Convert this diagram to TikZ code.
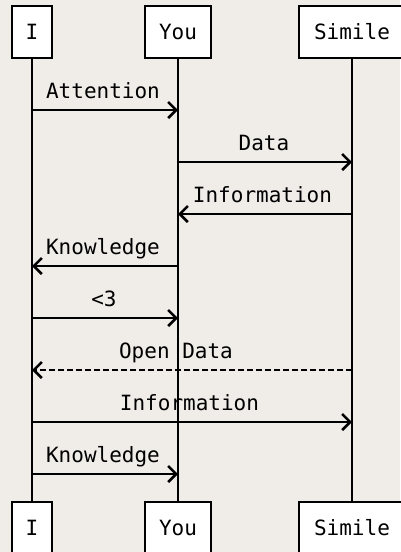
\documentclass[tikz,border=0pt]{standalone}
\usepackage{fontspec}
\setmonofont{DejaVu Sans Mono}
\usetikzlibrary{arrows.meta}
\definecolor{bg}{RGB}{240,236,232}
\begin{document}
\begin{tikzpicture}[x=1pt,y=-1pt,
  txt/.style={font=\ttfamily\fontsize{21}{25}\selectfont},
  actor/.style={txt,draw,fill=white,line width=2pt,minimum height=52pt,inner sep=0pt},
  life/.style={line width=2pt},
  msg/.style={line width=2pt,-{Straight Barb[length=8pt,width=16pt,line width=2.6pt]}},
  rmsg/.style={msg,dash pattern=on 6pt off 3pt},
  lbl/.style={txt,anchor=base,inner sep=0pt}]
\fill[bg] (0,0) rectangle (400,552);
\useasboundingbox (0,0) rectangle (400,552);
% actors
\node[actor,minimum width=40pt] (Itop) at (32,32) {I};
\node[actor,minimum width=66pt] (Ytop) at (178,32) {You};
\node[actor,minimum width=106pt] (Stop) at (352,32) {Simile};
\node[actor,minimum width=40pt] (Ibot) at (32,528) {I};
\node[actor,minimum width=66pt] (Ybot) at (178,528) {You};
\node[actor,minimum width=106pt] (Sbot) at (352,528) {Simile};
% lifelines
\draw[life] (Itop.south) -- (Ibot.north);
\draw[life] (Ytop.south) -- (Ybot.north);
\draw[life] (Stop.south) -- (Sbot.north);
% message points
\coordinate (I1) at (32,110);  \coordinate (Y1) at (178,110);
\coordinate (Y2) at (178,162); \coordinate (S2) at (352,162);
\coordinate (S3) at (352,214); \coordinate (Y3) at (178,214);
\coordinate (Y4) at (178,266); \coordinate (I4) at (32,266);
\coordinate (I5) at (32,318);  \coordinate (Y5) at (178,318);
\coordinate (S6) at (352,370); \coordinate (I6) at (32,370);
\coordinate (I7) at (32,422);  \coordinate (S7) at (352,422);
\coordinate (I8) at (32,474);  \coordinate (Y8) at (178,474);
% messages
\draw[msg] (I1) -- (Y1);
\draw[msg] (Y2) -- (S2);
\draw[msg] (S3) -- (Y3);
\draw[msg] (Y4) -- (I4);
\draw[msg] (I5) -- (Y5);
\draw[rmsg] (S6) -- (I6);
\draw[msg] (I7) -- (S7);
\draw[msg] (I8) -- (Y8);
% labels
\node[lbl] (L1) at (103,98.5) {Attention};
\node[lbl] (L2) at (264,150.5) {Data};
\node[lbl] (L3) at (262.5,202.5) {Information};
\node[lbl] (L4) at (103,254.5) {Knowledge};
\node[lbl] (L5) at (104,306.5) {<3};
\node[lbl] (L6) at (176,358.5) {Open Data};
\node[lbl] (L7) at (189.5,410.5) {Information};
\node[lbl] (L8) at (103,462.5) {Knowledge};
\end{tikzpicture}
\end{document}
